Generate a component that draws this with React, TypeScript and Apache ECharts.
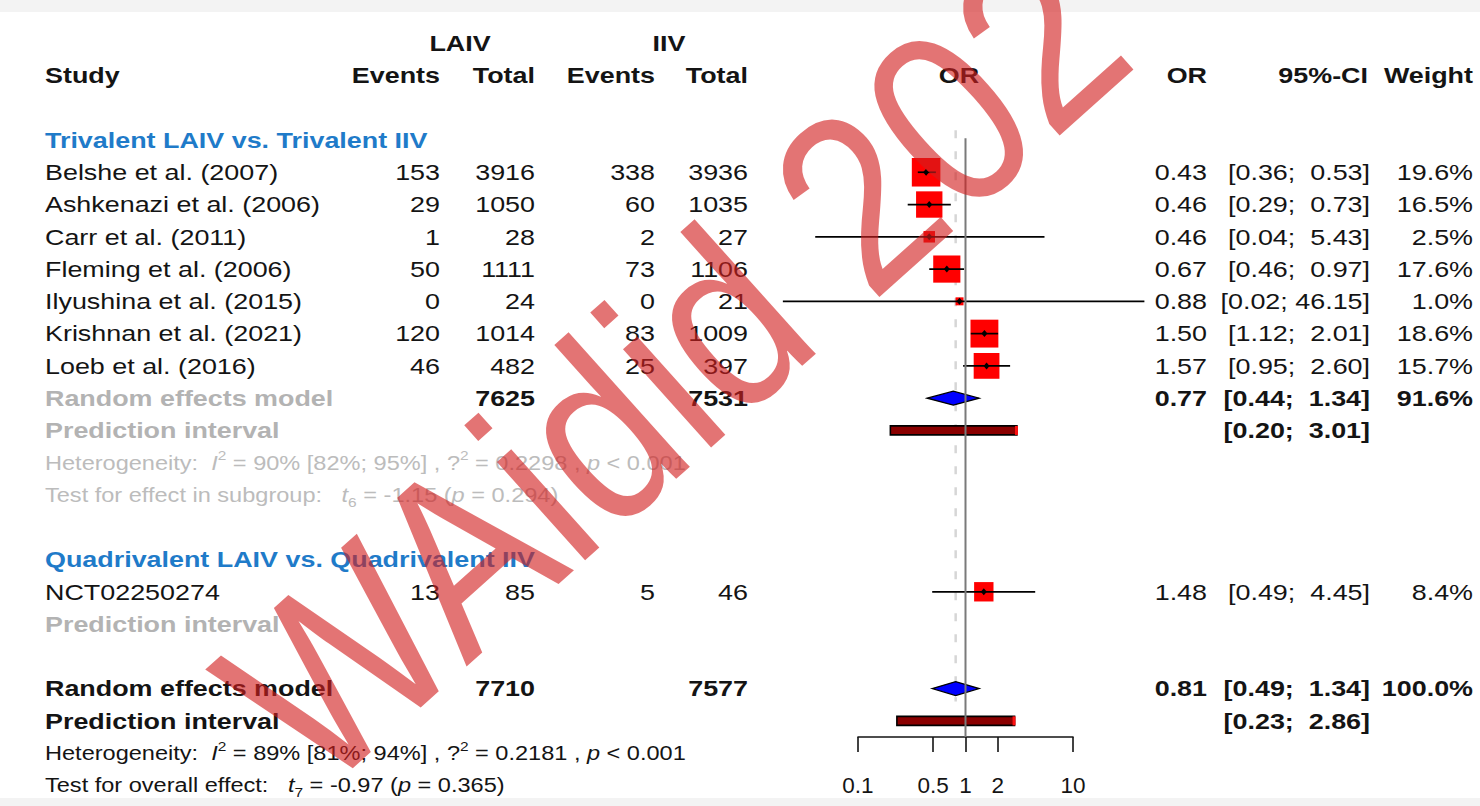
import React, { useEffect, useRef } from "react";
import * as echarts from "echarts";

// Trivalent LAIV vs. Trivalent IIV
const triStudies = [
  "Belshe et al. (2007)",
  "Ashkenazi et al. (2006)",
  "Carr et al. (2011)",
  "Fleming et al. (2006)",
  "Ilyushina et al. (2015)",
  "Krishnan et al. (2021)",
  "Loeb et al. (2016)",
];
const triLaivEvents = [153, 29, 1, 50, 0, 120, 46];
const triLaivTotal = [3916, 1050, 28, 1111, 24, 1014, 482];
const triIivEvents = [338, 60, 2, 73, 0, 83, 25];
const triIivTotal = [3936, 1035, 27, 1106, 21, 1009, 397];
const triOR = [0.43, 0.46, 0.46, 0.67, 0.88, 1.5, 1.57];
const triLower = [0.36, 0.29, 0.04, 0.46, 0.02, 1.12, 0.95];
const triUpper = [0.53, 0.73, 5.43, 0.97, 46.15, 2.01, 2.6];
const triWeight = [19.6, 16.5, 2.5, 17.6, 1.0, 18.6, 15.7];

// Quadrivalent LAIV vs. Quadrivalent IIV
const quadStudies = ["NCT02250274"];
const quadLaivEvents = [13];
const quadLaivTotal = [85];
const quadIivEvents = [5];
const quadIivTotal = [46];
const quadOR = [1.48];
const quadLower = [0.49];
const quadUpper = [4.45];
const quadWeight = [8.4];

// Pooled estimates: [OR, lower, upper, weight %]
const triPooled = [0.77, 0.44, 1.34, 91.6];
const triPredict = [0.2, 3.01];
const overallPooled = [0.81, 0.49, 1.34, 100.0];
const overallPredict = [0.23, 2.86];

// Heterogeneity statistics
const triHet = { i2: "90%", i2ci: "[82%; 95%]", tau2: "0.2298", p: "< 0.001" };
const triTest = { df: 6, t: "-1.15", p: "= 0.294" };
const allHet = { i2: "89%", i2ci: "[81%; 94%]", tau2: "0.2181", p: "< 0.001" };
const allTest = { df: 7, t: "-0.97", p: "= 0.365" };

// Odds-ratio axis
const tickValues = [0.1, 0.5, 1, 2, 10];
const tickLabels = ["0.1", "0.5", "1", "2", "10"];

const FONT = "'Liberation Sans', Arial, Helvetica, sans-serif";
const MAIN = 22.6;
const SMALL = 19.8;
const STRETCH = 1.19;
const BLACK = "#141414";
const GREY = "#b3b3b3";
const LIGHT = "#bcbcbc";
const BLUE = "#1f7bc9";

// column anchors (px)
const C_STUDY = 45;
const C_LE = 440;
const C_LT = 535;
const C_IE = 655;
const C_IT = 748;
const C_PLOT = 959;
const C_OR = 1207;
const C_CI = 1370;
const C_W = 1473;

const lg = (v: number) => Math.log10(v);
const sum = (a: number[]) => a.reduce((s, v) => s + v, 0);
const f2 = (v: number) => v.toFixed(2);
const fmtCI = (lo: number, hi: number) => {
  const h = f2(hi);
  return `[${f2(lo)};${" ".repeat(Math.max(1, 6 - h.length))}${h}]`;
};

type Cell = {
  text: string;
  x: number;
  align: "left" | "center" | "right";
  color?: string;
  bold?: boolean;
  small?: boolean;
};
type Row = { row: number; cells: Cell[] };

const hetText = (h: typeof triHet) =>
  `Heterogeneity:  {it|I}{sup|2} = ${h.i2} ${h.i2ci} , ?{sup|2} = ${h.tau2} , {it|p} ${h.p}`;
const testText = (label: string, t: typeof triTest) =>
  `${label}   {it|t}{sub|${t.df}} = ${t.t} ({it|p} ${t.p})`;

const studyCells = (
  name: string,
  le: number,
  lt: number,
  ie: number,
  it: number,
  or: number,
  lo: number,
  hi: number,
  w: number
): Cell[] => [
  { text: name, x: C_STUDY, align: "left" },
  { text: String(le), x: C_LE, align: "right" },
  { text: String(lt), x: C_LT, align: "right" },
  { text: String(ie), x: C_IE, align: "right" },
  { text: String(it), x: C_IT, align: "right" },
  { text: f2(or), x: C_OR, align: "right" },
  { text: fmtCI(lo, hi), x: C_CI, align: "right" },
  { text: `${w.toFixed(1)}%`, x: C_W, align: "right" },
];

const tableRows: Row[] = [];
tableRows.push({
  row: -3,
  cells: [
    { text: "LAIV", x: 460, align: "center", bold: true },
    { text: "IIV", x: 669, align: "center", bold: true },
  ],
});
tableRows.push({
  row: -2,
  cells: [
    { text: "Study", x: C_STUDY, align: "left", bold: true },
    { text: "Events", x: C_LE, align: "right", bold: true },
    { text: "Total", x: C_LT, align: "right", bold: true },
    { text: "Events", x: C_IE, align: "right", bold: true },
    { text: "Total", x: C_IT, align: "right", bold: true },
    { text: "OR", x: C_PLOT, align: "center", bold: true },
    { text: "OR", x: C_OR, align: "right", bold: true },
    { text: "95%-CI", x: C_CI - 2, align: "right", bold: true },
    { text: "Weight", x: C_W, align: "right", bold: true },
  ],
});
tableRows.push({
  row: 0,
  cells: [{ text: "Trivalent LAIV vs. Trivalent IIV", x: C_STUDY, align: "left", bold: true, color: BLUE }],
});
triStudies.forEach((name, i) =>
  tableRows.push({
    row: 1 + i,
    cells: studyCells(
      name,
      triLaivEvents[i],
      triLaivTotal[i],
      triIivEvents[i],
      triIivTotal[i],
      triOR[i],
      triLower[i],
      triUpper[i],
      triWeight[i]
    ),
  })
);
tableRows.push({
  row: 8,
  cells: [
    { text: "Random effects model", x: C_STUDY, align: "left", bold: true, color: GREY },
    { text: String(sum(triLaivTotal)), x: C_LT, align: "right", bold: true },
    { text: String(sum(triIivTotal)), x: C_IT, align: "right", bold: true },
    { text: f2(triPooled[0]), x: C_OR, align: "right", bold: true },
    { text: fmtCI(triPooled[1], triPooled[2]), x: C_CI, align: "right", bold: true },
    { text: `${triPooled[3].toFixed(1)}%`, x: C_W, align: "right", bold: true },
  ],
});
tableRows.push({
  row: 9,
  cells: [
    { text: "Prediction interval", x: C_STUDY, align: "left", bold: true, color: GREY },
    { text: fmtCI(triPredict[0], triPredict[1]), x: C_CI, align: "right", bold: true },
  ],
});
tableRows.push({ row: 10, cells: [{ text: hetText(triHet), x: C_STUDY, align: "left", small: true, color: LIGHT }] });
tableRows.push({
  row: 11,
  cells: [{ text: testText("Test for effect in subgroup:", triTest), x: C_STUDY, align: "left", small: true, color: LIGHT }],
});
tableRows.push({
  row: 13,
  cells: [{ text: "Quadrivalent LAIV vs. Quadrivalent IIV", x: C_STUDY, align: "left", bold: true, color: BLUE }],
});
quadStudies.forEach((name, i) =>
  tableRows.push({
    row: 14 + i,
    cells: studyCells(
      name,
      quadLaivEvents[i],
      quadLaivTotal[i],
      quadIivEvents[i],
      quadIivTotal[i],
      quadOR[i],
      quadLower[i],
      quadUpper[i],
      quadWeight[i]
    ),
  })
);
tableRows.push({
  row: 15,
  cells: [{ text: "Prediction interval", x: C_STUDY, align: "left", bold: true, color: GREY }],
});
tableRows.push({
  row: 17,
  cells: [
    { text: "Random effects model", x: C_STUDY, align: "left", bold: true },
    { text: String(sum(triLaivTotal) + sum(quadLaivTotal)), x: C_LT, align: "right", bold: true },
    { text: String(sum(triIivTotal) + sum(quadIivTotal)), x: C_IT, align: "right", bold: true },
    { text: f2(overallPooled[0]), x: C_OR, align: "right", bold: true },
    { text: fmtCI(overallPooled[1], overallPooled[2]), x: C_CI, align: "right", bold: true },
    { text: `${overallPooled[3].toFixed(1)}%`, x: C_W, align: "right", bold: true },
  ],
});
tableRows.push({
  row: 18,
  cells: [
    { text: "Prediction interval", x: C_STUDY, align: "left", bold: true },
    { text: fmtCI(overallPredict[0], overallPredict[1]), x: C_CI, align: "right", bold: true },
  ],
});
tableRows.push({ row: 19, cells: [{ text: hetText(allHet), x: C_STUDY, align: "left", small: true }] });
tableRows.push({
  row: 20,
  cells: [{ text: testText("Test for overall effect:", allTest), x: C_STUDY, align: "left", small: true }],
});

const richFor = (color: string) => ({
  it: { fontStyle: "italic", fontSize: SMALL, fontFamily: FONT, fill: color },
  sup: { fontSize: 13, fontFamily: FONT, fill: color, verticalAlign: "top", lineHeight: 13 },
  sub: { fontSize: 13, fontFamily: FONT, fill: color, verticalAlign: "bottom", lineHeight: 13 },
});

const studyData = [
  ...triOR.map((v, i) => [lg(v), 1 + i, lg(triLower[i]), lg(triUpper[i]), triWeight[i]]),
  ...quadOR.map((v, i) => [lg(v), 14 + i, lg(quadLower[i]), lg(quadUpper[i]), quadWeight[i]]),
];
const pooledData = [
  [lg(triPooled[0]), 8, lg(triPooled[1]), lg(triPooled[2])],
  [lg(overallPooled[0]), 17, lg(overallPooled[1]), lg(overallPooled[2])],
];
const predictData = [
  [lg(triPredict[0]), 9, lg(triPredict[1])],
  [lg(overallPredict[0]), 18, lg(overallPredict[1])],
];
const tickPositions = tickValues.map(lg);

function buildOption(): any {
  return {
    animation: false,
    backgroundColor: "#ffffff",
    grid: { left: 858, right: 407, top: 10.9, bottom: 69, containLabel: false, outerBoundsMode: "none" },
    xAxis: {
      type: "value",
      min: -1,
      max: 1,
      axisLine: { show: true, onZero: false, lineStyle: { color: BLACK, width: 1.6 } },
      axisTick: {
        show: true,
        inside: false,
        length: 15,
        customValues: tickPositions,
        lineStyle: { color: BLACK, width: 1.6 },
      },
      axisLabel: {
        show: true,
        customValues: tickPositions,
        margin: 37,
        fontSize: 22.5,
        fontFamily: FONT,
        color: BLACK,
        formatter: (v: number) => {
          const k = tickPositions.findIndex((p) => Math.abs(p - v) < 1e-6);
          return k >= 0 ? tickLabels[k] : "";
        },
      },
      splitLine: { show: false },
    },
    yAxis: { type: "value", inverse: true, min: -4, max: 18.5, show: false },
    graphic: [
      { type: "rect", z: 0, shape: { x: 0, y: 0, width: 1480, height: 12 }, style: { fill: "#f3f3f3" } },
      { type: "rect", z: 0, shape: { x: 0, y: 798, width: 1480, height: 8 }, style: { fill: "#f3f3f3" } },
      {
        type: "text",
        z: 100,
        x: 345,
        y: 827,
        rotation: 0.73,
        scaleX: 0.87,
        style: {
          text: "WAidid 202",
          font: `250px ${FONT}`,
          fill: "rgba(210,30,30,0.62)",
          textAlign: "left",
          textVerticalAlign: "bottom",
        },
      },
    ],
    series: [
      {
        // dashed line at the overall estimate
        type: "custom",
        z: 1,
        coordinateSystem: "cartesian2d",
        data: [[lg(overallPooled[0]), -0.3]],
        encode: { x: 0, y: 1 },
        renderItem: (_p: any, api: any) => {
          const a = api.coord([api.value(0), api.value(1)]);
          const b = api.coord([api.value(0), 17.4]);
          return {
            type: "line",
            shape: { x1: a[0], y1: a[1], x2: b[0], y2: b[1] },
            style: { stroke: "#d6d6d6", lineWidth: 2.5, lineDash: [8, 13] },
          };
        },
      },
      {
        // individual studies
        type: "custom",
        z: 2,
        coordinateSystem: "cartesian2d",
        data: studyData,
        encode: { x: 0, y: 1 },
        renderItem: (_p: any, api: any) => {
          const row = api.value(1);
          const c = api.coord([api.value(0), row]);
          const lo = api.coord([api.value(2), row]);
          const hi = api.coord([api.value(3), row]);
          const s = 6 * Math.sqrt(api.value(4)) + 2;
          return {
            type: "group",
            children: [
              {
                type: "rect",
                shape: { x: c[0] - s / 2, y: c[1] - s / 2, width: s, height: s },
                style: { fill: "#ff0000" },
              },
              {
                type: "line",
                shape: { x1: lo[0], y1: c[1], x2: hi[0], y2: c[1] },
                style: { stroke: "#000", lineWidth: 1.7 },
              },
              {
                type: "polygon",
                shape: {
                  points: [
                    [c[0] - 3, c[1]],
                    [c[0], c[1] - 3.5],
                    [c[0] + 3, c[1]],
                    [c[0], c[1] + 3.5],
                  ],
                },
                style: { fill: "#000" },
              },
            ],
          };
        },
      },
      {
        // pooled diamonds
        type: "custom",
        z: 2,
        coordinateSystem: "cartesian2d",
        data: pooledData,
        encode: { x: 0, y: 1 },
        renderItem: (_p: any, api: any) => {
          const row = api.value(1);
          const c = api.coord([api.value(0), row]);
          const lo = api.coord([api.value(2), row]);
          const hi = api.coord([api.value(3), row]);
          return {
            type: "polygon",
            shape: {
              points: [
                [lo[0], c[1]],
                [c[0], c[1] - 7],
                [hi[0], c[1]],
                [c[0], c[1] + 7],
              ],
            },
            style: { fill: "#0000ff", stroke: "#000", lineWidth: 1.3 },
          };
        },
      },
      {
        // prediction intervals
        type: "custom",
        z: 2,
        coordinateSystem: "cartesian2d",
        data: predictData,
        encode: { x: 0, y: 1 },
        renderItem: (_p: any, api: any) => {
          const row = api.value(1);
          const lo = api.coord([api.value(0), row]);
          const hi = api.coord([api.value(2), row]);
          return {
            type: "group",
            children: [
              {
                type: "rect",
                shape: { x: lo[0], y: lo[1] - 4.5, width: hi[0] - lo[0], height: 9 },
                style: { fill: "#8a0000", stroke: "#000", lineWidth: 1.6 },
              },
              {
                type: "rect",
                shape: { x: hi[0] - 2, y: lo[1] - 4.5, width: 3, height: 9 },
                style: { fill: "#ff1010" },
              },
            ],
          };
        },
      },
      {
        // line of no effect
        type: "custom",
        z: 3,
        coordinateSystem: "cartesian2d",
        data: [[lg(1), -0.05]],
        encode: { x: 0, y: 1 },
        renderItem: (_p: any, api: any) => {
          const a = api.coord([api.value(0), api.value(1)]);
          const b = api.coord([api.value(0), 18.5]);
          return {
            type: "line",
            shape: { x1: a[0], y1: a[1], x2: b[0], y2: b[1] },
            style: { stroke: "#7a7a7a", lineWidth: 2 },
          };
        },
      },
      {
        // study table
        type: "custom",
        z: 4,
        coordinateSystem: "cartesian2d",
        data: tableRows.map((r, i) => [0, r.row, i]),
        encode: { x: 0, y: 1 },
        renderItem: (_p: any, api: any) => {
          const r = tableRows[api.value(2)];
          const y = api.coord([0, r.row])[1];
          return {
            type: "group",
            children: r.cells.map((c) => {
              const color = c.color || BLACK;
              return {
                type: "text",
                x: c.x,
                y,
                scaleX: STRETCH,
                style: {
                  x: 0,
                  y: 0,
                  text: c.text,
                  fill: color,
                  fontSize: c.small ? SMALL : MAIN,
                  fontFamily: FONT,
                  fontWeight: c.bold ? "bold" : "normal",
                  align: c.align,
                  verticalAlign: "middle",
                  lineHeight: c.small ? 27 : undefined,
                  rich: c.small ? richFor(color) : undefined,
                },
              };
            }),
          };
        },
      },
    ],
  };
}

export default function App() {
  const ref = useRef<HTMLDivElement>(null);
  useEffect(() => {
    if (!ref.current) return;
    const chart = echarts.init(ref.current, null, { renderer: "svg" });
    chart.setOption(buildOption());
    return () => chart.dispose();
  }, []);
  return (
    <div
      ref={ref}
      style={{ position: "absolute", left: 0, top: 0, width: 1480, height: 806, background: "#ffffff" }}
    />
  );
}
